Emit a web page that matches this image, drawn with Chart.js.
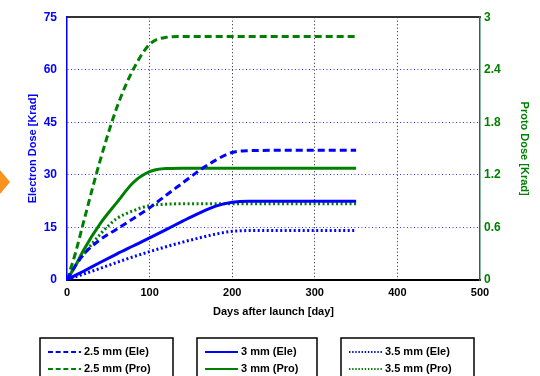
<!DOCTYPE html>
<html>
<head>
<meta charset="utf-8">
<script src="https://cdn.jsdelivr.net/npm/chart.js@4"></script>
<style>
  body { margin: 0; background: #fff; }
  #wrap { width: 540px; height: 376px; }
</style>
</head>
<body>
<div id="wrap"><canvas id="doseChart" width="540" height="376"></canvas></div>
<script>
// sample days (x)
const days = [0, 10, 20, 40, 60, 80, 100, 120, 140, 160, 180, 200, 220, 250, 300, 350];

// electron dose [Krad], left axis
const ele25 = [0, 4.0, 7.3, 11.5, 14.5, 17.5, 20.6, 24.2, 27.7, 31.2, 34.2, 36.4, 36.9, 37.0, 37.0, 37.0];
const ele30 = [0, 1.3, 2.5, 5.0, 7.4, 9.7, 12.0, 14.4, 16.8, 19.1, 21.1, 22.2, 22.5, 22.5, 22.5, 22.5];
const ele35 = [0, 0.9, 1.7, 3.3, 5.0, 6.6, 8.1, 9.5, 10.8, 12.0, 13.1, 13.9, 14.1, 14.1, 14.1, 14.1];

// proton dose [Krad], right axis
const pro25 = [0, 0.30, 0.66, 1.36, 1.96, 2.40, 2.69, 2.77, 2.78, 2.78, 2.78, 2.78, 2.78, 2.78, 2.78, 2.78];
const pro30 = [0, 0.16, 0.34, 0.64, 0.88, 1.11, 1.236, 1.272, 1.275, 1.275, 1.275, 1.275, 1.275, 1.275, 1.275, 1.275];
const pro35 = [0, 0.16, 0.29, 0.52, 0.70, 0.79, 0.85, 0.865, 0.87, 0.87, 0.87, 0.87, 0.87, 0.87, 0.87, 0.87];

const seriesLabels = ['2.5 mm (Ele)', '2.5 mm (Pro)', '3 mm (Ele)', '3 mm (Pro)', '3.5 mm (Ele)', '3.5 mm (Pro)'];

const BLUE = '#0000ff';
const GREEN = '#008000';
const FONT = "'Liberation Sans', Arial, sans-serif";

function pts(arr) {
  return days.map((d, i) => ({ x: d, y: arr[i] }));
}

function ds(label, arr, color, axis, dash) {
  return {
    label: label,
    data: pts(arr),
    yAxisID: axis,
    borderColor: color,
    backgroundColor: color,
    borderWidth: 3,
    borderDash: dash,
    pointRadius: 0,
    cubicInterpolationMode: 'monotone',
    fill: false
  };
}

const DASH = [7, 4];
const DOT = [2, 2.5];

// legend boxes under the plot + small orange marker at the left edge
const extras = {
  id: 'extras',
  afterDraw(chart) {
    const ctx = chart.ctx;
    ctx.save();
    // orange arrow head
    ctx.fillStyle = '#f7931e';
    ctx.beginPath();
    ctx.moveTo(0, 170);
    ctx.lineTo(10, 182);
    ctx.lineTo(0, 194);
    ctx.closePath();
    ctx.fill();

    const boxes = [
      { x: 40, w: 133, items: [0, 1] },
      { x: 197, w: 120, items: [2, 3] },
      { x: 341, w: 133, items: [4, 5] }
    ];
    ctx.font = "bold 11px " + FONT;
    ctx.textBaseline = 'middle';
    boxes.forEach(b => {
      ctx.strokeStyle = '#000';
      ctx.lineWidth = 1.5;
      ctx.setLineDash([]);
      ctx.strokeRect(b.x, 338, b.w, 50);
      b.items.forEach((idx, row) => {
        const d = chart.data.datasets[idx];
        const y = 352 + row * 17;
        ctx.strokeStyle = d.borderColor;
        ctx.lineWidth = 2;
        ctx.setLineDash(d.borderDash.map(v => v * 0.7));
        ctx.beginPath();
        ctx.moveTo(b.x + 8, y);
        ctx.lineTo(b.x + 41, y);
        ctx.stroke();
        ctx.setLineDash([]);
        ctx.fillStyle = '#000';
        ctx.fillText(d.label, b.x + 44, y);
      });
    });
    ctx.restore();
  }
};

new Chart(document.getElementById('doseChart').getContext('2d'), {
  type: 'line',
  data: {
    datasets: [
      ds(seriesLabels[0], ele25, BLUE, 'y', DASH),
      ds(seriesLabels[1], pro25, GREEN, 'y1', DASH),
      ds(seriesLabels[2], ele30, BLUE, 'y', []),
      ds(seriesLabels[3], pro30, GREEN, 'y1', []),
      ds(seriesLabels[4], ele35, BLUE, 'y', DOT),
      ds(seriesLabels[5], pro35, GREEN, 'y1', DOT)
    ]
  },
  options: {
    responsive: false,
    animation: false,
    layout: { padding: { left: 0, right: 0, top: 13, bottom: 56 } },
    plugins: {
      legend: { display: false },
      tooltip: { enabled: false }
    },
    scales: {
      x: {
        type: 'linear',
        position: 'bottom',
        min: 0,
        max: 500,
        ticks: { stepSize: 100, color: '#000', padding: 6, font: { family: FONT, size: 11, weight: 'bold' } },
        grid: {
          drawTicks: false,
          color: c => (c.tick && (c.tick.value === 0 || c.tick.value === 500)) ? 'rgba(0,0,0,0)' : '#222',
          lineWidth: 1
        },
        border: { color: '#000', width: 2, dash: [1, 2.5] },
        title: { display: true, text: 'Days after launch [day]', color: '#000', padding: { top: 0, bottom: 1 }, font: { family: FONT, size: 11, weight: 'bold' } },
        afterFit: s => { s.height = 40; }
      },
      xTop: {
        type: 'linear',
        position: 'top',
        min: 0,
        max: 500,
        ticks: { display: false },
        grid: { drawTicks: false, drawOnChartArea: false },
        border: { color: '#333', width: 2 },
        afterFit: s => { s.height = 0; }
      },
      y: {
        position: 'left',
        min: 0,
        max: 75,
        ticks: { stepSize: 15, color: BLUE, padding: 10, font: { family: FONT, size: 12, weight: 'bold' } },
        grid: {
          drawTicks: false,
          color: c => (c.tick && (c.tick.value === 0 || c.tick.value === 75)) ? 'rgba(0,0,0,0)' : 'rgba(0,0,255,0.8)',
          lineWidth: 1
        },
        border: { color: BLUE, width: 1.5, dash: [1, 2.5] },
        title: { display: true, text: 'Electron Dose [Krad]', color: BLUE, padding: { top: 26, bottom: 0 }, font: { family: FONT, size: 11, weight: 'bold' } },
        afterFit: s => { s.width = 67; }
      },
      y1: {
        position: 'right',
        min: 0,
        max: 3,
        ticks: { stepSize: 0.6, color: GREEN, padding: 4, font: { family: FONT, size: 12, weight: 'bold' }, callback: v => String(+v.toFixed(1)) },
        grid: { drawTicks: false, drawOnChartArea: false },
        border: { color: '#1f7040', width: 1.5 },
        title: { display: true, text: 'Proto Dose [Krad]', color: GREEN, padding: { top: 9, bottom: 0 }, font: { family: FONT, size: 11, weight: 'bold' } },
        afterFit: s => { s.width = 60; }
      }
    }
  },
  plugins: [extras]
});
</script>
</body>
</html>
